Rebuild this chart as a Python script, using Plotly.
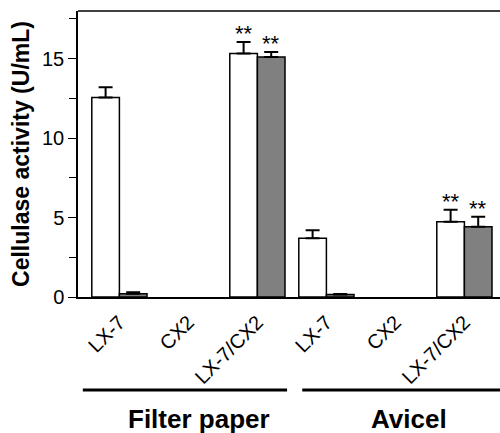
import plotly.graph_objects as go

categories = ["LX-7", "CX2", "LX-7/CX2", "LX-7", "CX2", "LX-7/CX2"]
white_vals = [12.55, 0.0, 15.33, 3.70, 0.0, 4.73]
white_err = [0.65, 0.0, 0.72, 0.50, 0.0, 0.76]
gray_vals = [0.20, 0.0, 15.10, 0.15, 0.0, 4.42]
gray_err = [0.10, 0.0, 0.32, 0.04, 0.0, 0.63]
white_sig = ["", "", "**", "", "", "**"]
gray_sig = ["", "", "**", "", "", "**"]
groups = ["Filter paper", "Avicel"]

FONT = "Liberation Sans, Arial, sans-serif"
xpos = list(range(len(categories)))


def drawn(vals):
    # zero-activity bars are not drawn in the original figure
    return [v if v > 0 else None for v in vals]


fig = go.Figure()
fig.add_trace(go.Bar(
    x=xpos, y=drawn(white_vals),
    marker=dict(color="white", line=dict(color="black", width=1.5)),
    error_y=dict(type="data", array=white_err, symmetric=False, arrayminus=[0]*6,
                 color="black", thickness=2, width=7),
    showlegend=False,
))
fig.add_trace(go.Bar(
    x=xpos, y=drawn(gray_vals),
    marker=dict(color="#808080", line=dict(color="black", width=1.5)),
    error_y=dict(type="data", array=gray_err, symmetric=False, arrayminus=[0]*6,
                 color="black", thickness=2, width=7),
    showlegend=False,
))

# significance markers
for i in range(len(categories)):
    if white_sig[i]:
        fig.add_annotation(x=i - 0.2, y=white_vals[i] + white_err[i], text=white_sig[i],
                           showarrow=False, yanchor="bottom", yshift=-6,
                           font=dict(family=FONT, size=22, color="black"))
    if gray_sig[i]:
        fig.add_annotation(x=i + 0.2, y=gray_vals[i] + gray_err[i], text=gray_sig[i],
                           showarrow=False, yanchor="bottom", yshift=-6,
                           font=dict(family=FONT, size=22, color="black"))

# group brackets and labels
group_spans = [(-0.53, 2.43), (2.65, 5.6)]
for (x0, x1), name in zip(group_spans, groups):
    fig.add_shape(type="line", xref="x", yref="paper", x0=x0, x1=x1, y0=-0.325, y1=-0.325,
                  line=dict(color="black", width=3))
fig.add_annotation(xref="x", yref="paper", x=1.15, y=-0.425, text="<b>Filter paper</b>",
                   showarrow=False, yanchor="middle",
                   font=dict(family=FONT, size=26, color="black"))
fig.add_annotation(xref="x", yref="paper", x=4.2, y=-0.425, text="<b>Avicel</b>",
                   showarrow=False, yanchor="middle",
                   font=dict(family=FONT, size=26, color="black"))

# top frame line
fig.add_shape(type="line", xref="paper", yref="paper", x0=0, x1=1, y0=1, y1=1,
              line=dict(color="black", width=1.5))

fig.update_layout(
    width=500, height=433,
    margin=dict(l=78, r=0, t=11, b=136),
    paper_bgcolor="white", plot_bgcolor="white",
    barmode="group", bargap=0.2, bargroupgap=0,
    font=dict(family=FONT, color="black"),
    xaxis=dict(
        range=[-0.6, 5.516], tickvals=xpos, ticktext=categories, tickangle=-45,
        showline=True, linecolor="black", linewidth=1.5, ticks="", showgrid=False,
        zeroline=False, tickfont=dict(family=FONT, size=20, color="black"),
        ticklabelstandoff=4, automargin=False,
    ),
    yaxis=dict(
        range=[0, 18], tickvals=[0, 5, 10, 15], showline=True, linecolor="black",
        linewidth=1.5, ticks="outside", ticklen=8, tickwidth=1.2, tickcolor="black",
        showgrid=False, zeroline=False,
        tickfont=dict(family=FONT, size=20, color="black"),
        minor=dict(tickvals=[2.5, 7.5, 12.5, 17.5], ticks="outside", ticklen=7,
                   tickwidth=1.2, tickcolor="black"),
        title=dict(text="<b>Cellulase activity (U/mL)</b>", standoff=6,
                   font=dict(family=FONT, size=23, color="black")),
        automargin=False,
    ),
)

fig.write_html("out.html")
